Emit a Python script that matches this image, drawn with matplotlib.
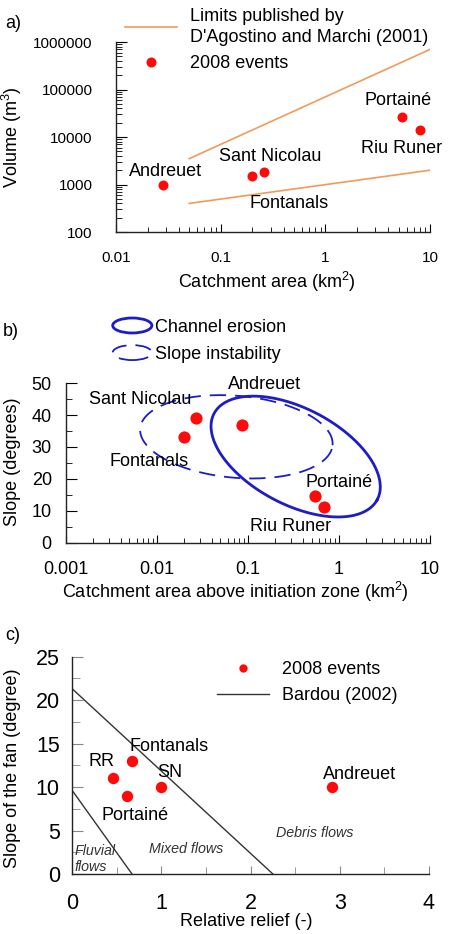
import numpy as np
import matplotlib
matplotlib.use('Agg')
import matplotlib.pyplot as plt
from matplotlib.patches import Ellipse
from matplotlib.lines import Line2D
from matplotlib.legend_handler import HandlerPatch
from matplotlib.ticker import FuncFormatter, MultipleLocator, NullFormatter

plt.rcParams['font.family'] = ['Liberation Sans', 'DejaVu Sans']
plt.rcParams['mathtext.default'] = 'regular'

# a) volume vs catchment area
area_a = [0.028, 0.20, 0.26, 5.4, 8.0]
volume_a = [1000, 1500, 1800, 27000, 14000]
limit_area = [0.05, 10]
limit_upper = [3500, 700000]
limit_lower = [400, 2000]

# b) slope vs catchment area above initiation zone
area_b = [0.027, 0.020, 0.086, 0.54, 0.68]
slope_b = [39, 33, 37, 14.6, 11.3]
# ellipses in (log10 area, slope): centre, major vector, minor vector
channel_ell = [(-0.475, 27.0), (0.896, -13.5), (0.246, 13.3)]
slope_ell = [(-1.126, 33.2), (1.056, -2.65), (0.04, 12.8)]

# c) fan slope vs relative relief
relief_c = [0.46, 0.67, 0.61, 0.99, 2.91]
fan_c = [11, 13, 9, 10, 10]
bardou_up_x = [0, 2.25]
bardou_up_y = [21.3, 0]
bardou_low_x = [0, 0.67]
bardou_low_y = [9.6, 0]

RED = '#ff0a0a'
ORANGE = '#f29a5c'
BLUE = '#1c1cc8'
DARK = '#333333'
FS = 13

def ellipse_xy(e):
    (cx, cy), (mx, my), (nx, ny) = e
    t = np.linspace(0, 2 * np.pi, 300)
    lx = cx + mx * np.cos(t) + nx * np.sin(t)
    y = cy + my * np.cos(t) + ny * np.sin(t)
    return 10 ** lx, y

def style(ax, fs_tick):
    for s in ['top', 'right']:
        ax.spines[s].set_visible(False)
    for s in ['left', 'bottom']:
        ax.spines[s].set_linewidth(1.0)
        ax.spines[s].set_color('#222222')
    ax.tick_params(which='both', direction='in', labelsize=fs_tick)

def make_ell(legend, orig_handle, xdescent, ydescent, width, height, fontsize):
    return Ellipse((width / 2 - xdescent, height / 2 - ydescent), width, height)

fig = plt.figure(figsize=(4.49, 9.34), dpi=100)

# ---------------- a)
ax = fig.add_axes([0.2584, 0.7516, 0.6993, 0.2034])
ax.set_xscale('log')
ax.set_yscale('log')
ax.plot(limit_area, limit_upper, color=ORANGE, lw=1.2)
ax.plot(limit_area, limit_lower, color=ORANGE, lw=1.2)
ax.plot(area_a, volume_a, 'o', color=RED, ms=7.2, mec='none')
ax.set_xlim(0.01, 10)
ax.set_ylim(100, 1e6)
style(ax, 11)
ax.xaxis.set_major_formatter(FuncFormatter(lambda v, p: '%g' % v))
ax.yaxis.set_major_formatter(FuncFormatter(lambda v, p: '%d' % v))
ax.xaxis.set_minor_formatter(NullFormatter())
ax.yaxis.set_minor_formatter(NullFormatter())
ax.tick_params(axis='y', which='major', length=8, pad=17)
ax.tick_params(axis='y', which='minor', length=4.5)
ax.tick_params(axis='x', which='major', length=6, pad=14)
ax.tick_params(axis='x', which='minor', length=3.5)
ax.set_xlabel('Catchment area (km$^{2}$)', fontsize=FS, va='center')
ax.xaxis.set_label_coords(0.479, -0.263)
ax.set_ylabel('Volume (m$^{3}$)', fontsize=FS, va='center')
ax.yaxis.set_label_coords(-0.331, 0.5)
for txt, x, y in [('Andreuet', 0.030, 1923), ('Sant Nicolau', 0.296, 3981),
                  ('Fontanals', 0.449, 408), ('Portainé', 4.93, 58100),
                  ('Riu Runer', 5.39, 5675)]:
    ax.text(x, y, txt, fontsize=FS, ha='center', va='center')
h1 = Line2D([], [], color=ORANGE, lw=1.2)
h2 = Line2D([], [], ls='none', marker='o', color=RED, ms=7.2, mec='none')
leg = ax.legend([h1, h2], ["Limits published by\nD'Agostino and Marchi (2001)", '2008 events'],
                loc='upper left', bbox_to_anchor=(125 / 449, 1 - 8 / 934),
                bbox_transform=fig.transFigure, frameon=False, fontsize=FS,
                borderpad=0, borderaxespad=0, handlelength=2.9, handletextpad=0.72,
                labelspacing=0.5)
leg.get_texts()[0].set_linespacing(1.32)
fig.text(5 / 449, 1 - 23 / 934, 'a)', fontsize=FS, va='center')

# ---------------- b)
ax = fig.add_axes([0.1463, 0.419, 0.8114, 0.1707])
ax.set_xscale('log')
ex, ey = ellipse_xy(slope_ell)
ax.plot(ex, ey, color=BLUE, lw=1.3, ls=(0, (9, 5)))
ex, ey = ellipse_xy(channel_ell)
ax.plot(ex, ey, color=BLUE, lw=2.0)
ax.plot(area_b, slope_b, 'o', color=RED, ms=8.8, mec='none')
ax.set_xlim(0.001, 10)
ax.set_ylim(0, 50)
style(ax, FS)
ax.xaxis.set_major_formatter(FuncFormatter(lambda v, p: '%g' % v))
ax.xaxis.set_minor_formatter(NullFormatter())
ax.yaxis.set_major_locator(MultipleLocator(10))
ax.yaxis.set_minor_locator(MultipleLocator(5))
ax.tick_params(axis='y', which='major', length=8, pad=10)
ax.tick_params(axis='y', which='minor', length=4.5)
ax.tick_params(axis='x', which='major', length=6, pad=13)
ax.tick_params(axis='x', which='minor', length=3.5)
ax.set_xlabel('Catchment area above initiation zone (km$^{2}$)', fontsize=FS, va='center')
ax.xaxis.set_label_coords(0.4656, -0.309)
ax.set_ylabel('Slope (degrees)', fontsize=FS, va='center')
ax.yaxis.set_label_coords(-0.147, 0.506)
for txt, x, y in [('Andreuet', 0.154, 49.7), ('Sant Nicolau', 0.00662, 44.8),
                  ('Fontanals', 0.0082, 25.4), ('Portainé', 1.0, 18.8),
                  ('Riu Runer', 0.297, 5.0)]:
    ax.text(x, y, txt, fontsize=FS, ha='center', va='center')
e1 = Ellipse((0, 0), 1, 1, fill=False, edgecolor=BLUE, lw=2.0)
e2 = Ellipse((0, 0), 1, 1, fill=False, edgecolor=BLUE, lw=1.3, ls=(0, (9, 5)))
ax.legend([e1, e2], ['Channel erosion', 'Slope instability'],
          handler_map={Ellipse: HandlerPatch(patch_func=make_ell)},
          loc='upper left', bbox_to_anchor=(112.7 / 449, 1 - 318 / 934),
          bbox_transform=fig.transFigure, frameon=False, fontsize=FS,
          borderpad=0, borderaxespad=0, handlelength=2.17, handleheight=0.9,
          handletextpad=0.2, labelspacing=0.52)
fig.text(3 / 449, 1 - 331.7 / 934, 'b)', fontsize=FS, va='center')

# ---------------- c)
ax = fig.add_axes([0.161, 0.0642, 0.7944, 0.2327])
ax.plot(bardou_up_x, bardou_up_y, color=DARK, lw=1.0)
ax.plot(bardou_low_x, bardou_low_y, color=DARK, lw=1.0)
ax.plot(relief_c, fan_c, 'o', color=RED, ms=8.2, mec='none')
ax.set_xlim(0, 4)
ax.set_ylim(0, 25)
style(ax, 15.5)
ax.xaxis.set_major_locator(MultipleLocator(1))
ax.xaxis.set_minor_locator(MultipleLocator(0.5))
ax.yaxis.set_major_locator(MultipleLocator(5))
ax.yaxis.set_minor_locator(MultipleLocator(2.5))
ax.tick_params(which='both', color='#888888')
ax.tick_params(axis='y', which='major', length=8, pad=9)
ax.tick_params(axis='y', which='minor', length=5.5)
ax.tick_params(axis='x', which='major', length=6, pad=14)
ax.tick_params(axis='x', which='minor', length=4.8)
ax.set_xlabel('Relative relief (-)', fontsize=FS, va='center')
ax.xaxis.set_label_coords(0.488, -0.2195)
ax.set_ylabel('Slope of the fan (degree)', fontsize=FS, va='center')
ax.yaxis.set_label_coords(-0.168, 0.488)
for txt, x, y in [('Fontanals', 1.09, 14.7), ('RR', 0.333, 13.0), ('SN', 1.095, 11.7),
                  ('Portainé', 0.703, 6.79), ('Andreuet', 3.22, 11.5)]:
    ax.text(x, y, txt, fontsize=FS, ha='center', va='center')
ax.text(2.72, 4.68, 'Debris flows', fontsize=10.3, style='italic', color=DARK,
        ha='center', va='center')
ax.text(1.275, 2.91, 'Mixed flows', fontsize=10.3, style='italic', color=DARK,
        ha='center', va='center')
ax.text(0.02, 1.73, 'Fluvial\nflows', fontsize=10.3, style='italic', color=DARK,
        ha='left', va='center', linespacing=1.15)
h1 = Line2D([], [], ls='none', marker='o', color=RED, ms=6, mec='none')
h2 = Line2D([], [], color=DARK, lw=1.0)
ax.legend([h1, h2], ['2008 events', 'Bardou (2002)'],
          loc='upper left', bbox_to_anchor=(216.7 / 449, 1 - 661.5 / 934),
          bbox_transform=fig.transFigure, frameon=False, fontsize=FS,
          borderpad=0, borderaxespad=0, handlelength=2.87, handletextpad=0.74,
          labelspacing=0.47)
fig.text(5 / 449, 1 - 635 / 934, 'c)', fontsize=FS, va='center')

fig.savefig('out.png', dpi=100)
